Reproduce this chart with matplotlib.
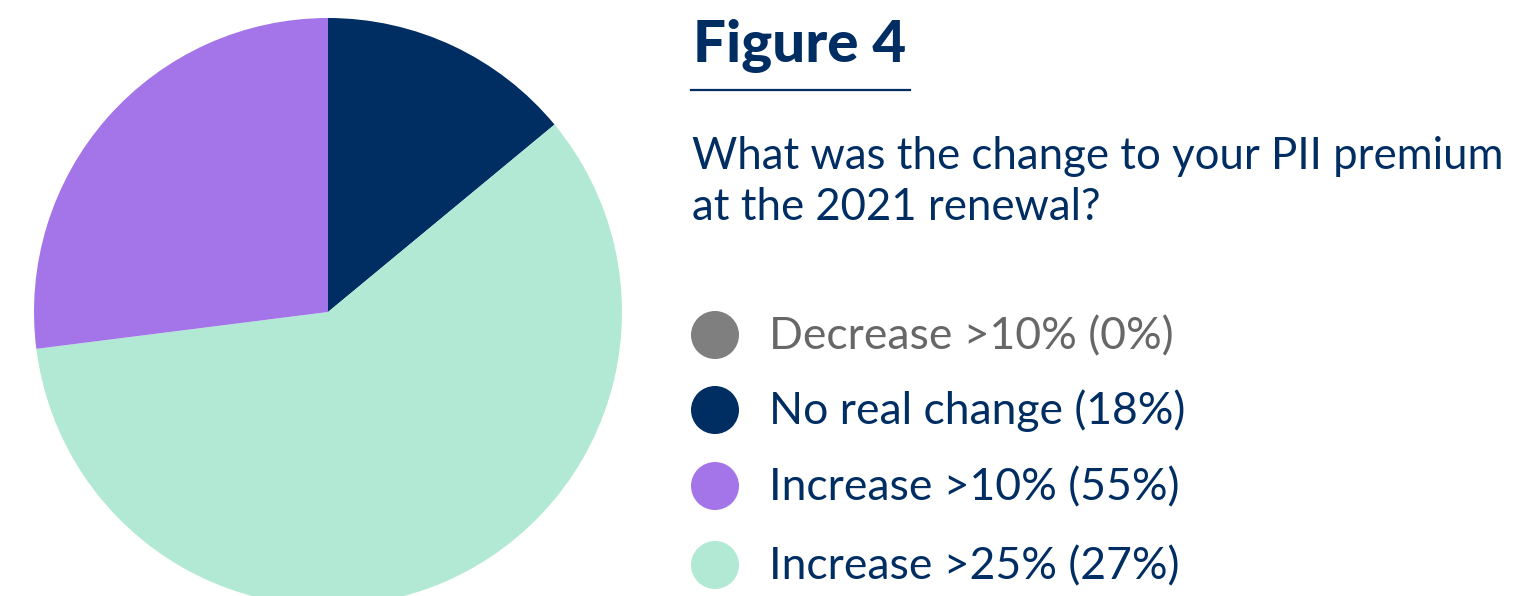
import matplotlib.pyplot as plt
from matplotlib.lines import Line2D

# slice shares as drawn in the pie (clockwise from 12 o'clock)
slice_names = ["No real change", "Increase >25%", "Increase >10%"]
slice_shares = [14, 59, 27]
slice_colors = ["#002d62", "#b2e9d5", "#a475e8"]

# legend entries as printed
legend_labels = ["Decrease >10% (0%)", "No real change (18%)",
                 "Increase >10% (55%)", "Increase >25% (27%)"]
legend_colors = ["#7f7f7f", "#002d62", "#a475e8", "#b2e9d5"]
legend_text_colors = ["#676767", "#002d62", "#002d62", "#002d62"]

navy = "#002d62"
plt.rcParams['font.family'] = ['Lato', 'DejaVu Sans']

W, H = 1531, 596
fig = plt.figure(figsize=(W / 100, H / 100), dpi=100)

# pie, centred at (328, 312) px with radius 294 px; bottom is cut by the figure edge
cx, cy, r = 328, 312, 294
ax = fig.add_axes([(cx - r) / W, (H - cy - r) / H, 2 * r / W, 2 * r / H])
ax.pie(slice_shares, colors=slice_colors, startangle=90, counterclock=False,
       radius=1, wedgeprops=dict(linewidth=0))
ax.set_xlim(-1, 1)
ax.set_ylim(-1, 1)
ax.set_aspect('equal')
ax.axis('off')

# overlay in pixel coordinates for the text block
ov = fig.add_axes([0, 0, 1, 1])
ov.set_xlim(0, W)
ov.set_ylim(H, 0)
ov.axis('off')

ov.text(693, 62, "Figure 4", fontsize=42, fontweight='black', color=navy,
        va='baseline', ha='left')
ov.add_line(Line2D([691, 910], [90, 90], color=navy, linewidth=1.6))

ov.text(692, 169, "What was the change to your PII premium", fontsize=31.5,
        color=navy, va='baseline', ha='left')
ov.text(692, 220, "at the 2021 renewal?", fontsize=31.5,
        color=navy, va='baseline', ha='left')

row_y = [335, 410, 486, 565]
ov.scatter([715] * 4, row_y, s=1195, c=legend_colors, linewidths=0)
for y, lab, tc in zip(row_y, legend_labels, legend_text_colors):
    ov.text(769, y + 14, lab, fontsize=32, color=tc, va='baseline', ha='left')

fig.savefig("out.png", dpi=100)
